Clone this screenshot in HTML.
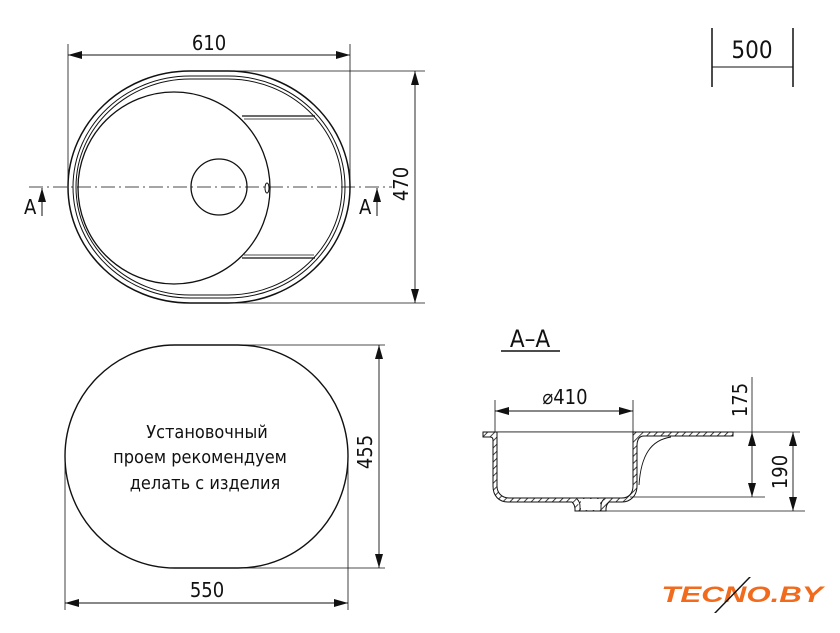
<!DOCTYPE html>
<html><head><meta charset="utf-8"><style>
html,body{margin:0;padding:0;background:#fff;width:840px;height:633px;overflow:hidden}
text{font-family:"DejaVu Sans Condensed","Liberation Sans",sans-serif;fill:#111}
</style></head><body>
<svg width="840" height="633" viewBox="0 0 840 633" xmlns="http://www.w3.org/2000/svg">
<defs>
<marker id="a" viewBox="0 0 14 8" refX="14" refY="4" markerWidth="14" markerHeight="8" orient="auto-start-reverse" markerUnits="userSpaceOnUse"><path d="M0,0L14,4L0,8z" fill="#111"/></marker>
<pattern id="h" width="5" height="5" patternUnits="userSpaceOnUse" patternTransform="rotate(45)"><rect width="5" height="5" fill="#fff"/><line x1="0" y1="0" x2="0" y2="5" stroke="#111" stroke-width="1.6"/></pattern>
</defs>
<g fill="none" stroke="#111" stroke-width="1.3">
<line x1="68" y1="44" x2="68" y2="185" stroke-width="0.8"/>
<line x1="350" y1="44" x2="350" y2="185" stroke-width="0.8"/>
<line x1="68" y1="55" x2="350" y2="55" stroke-width="0.9" marker-start="url(#a)" marker-end="url(#a)"/>
<line x1="210" y1="71" x2="425" y2="71" stroke-width="0.8"/>
<line x1="210" y1="303" x2="425" y2="303" stroke-width="0.8"/>
<line x1="415" y1="71" x2="415" y2="303" stroke-width="0.9" marker-start="url(#a)" marker-end="url(#a)"/>
<path d="M190,71 L228,71 C295,71 350,123 350,187 C350,251 295,303 228,303 L190,303 C123,303 68,251 68,187 C68,123 123,71 190,71Z" stroke-width="1.5"/>
<path d="M190,76 L228,76 C292,76 345,125 345,187 C345,249 292,298 228,298 L190,298 C126,298 73,249 73,187 C73,125 126,76 190,76Z" stroke-width="1"/>
<path d="M190,79 L228,79 C290,79 342,127 342,187 C342,247 290,295 228,295 L190,295 C128,295 76,247 76,187 C76,127 128,79 190,79Z" stroke-width="1"/>
<ellipse cx="174" cy="188" rx="96" ry="96"/>
<line x1="242" y1="116" x2="315" y2="116"/><line x1="244" y1="119" x2="314" y2="119" stroke-width="0.7"/>
<line x1="242" y1="258" x2="315" y2="258"/><line x1="244" y1="255" x2="314" y2="255" stroke-width="0.7"/>
<circle cx="219" cy="187" r="28"/>
<ellipse cx="267" cy="188" rx="2" ry="5" stroke-width="1"/>
<line x1="29" y1="187" x2="392" y2="187" stroke-width="0.8" stroke-dasharray="14,4,2,4"/>
<line x1="42" y1="188" x2="42" y2="216" stroke-width="1" marker-start="url(#a)"/>
<line x1="377" y1="188" x2="377" y2="216" stroke-width="1" marker-start="url(#a)"/>
<path d="M175,345 L238,345 C299,345 348,395 348,456 C348,518 299,568 238,568 L175,568 C114,568 65,518 65,456 C65,395 114,345 175,345Z" stroke-width="1.4"/>
<line x1="65" y1="456" x2="65" y2="610" stroke-width="0.8"/>
<line x1="348" y1="456" x2="348" y2="610" stroke-width="0.8"/>
<line x1="65" y1="603" x2="348" y2="603" stroke-width="0.9" marker-start="url(#a)" marker-end="url(#a)"/>
<line x1="200" y1="345" x2="385" y2="345" stroke-width="0.8"/>
<line x1="200" y1="568" x2="385" y2="568" stroke-width="0.8"/>
<line x1="379" y1="345" x2="379" y2="568" stroke-width="0.9" marker-start="url(#a)" marker-end="url(#a)"/>
<line x1="712" y1="28" x2="712" y2="87" stroke-width="1.5"/>
<line x1="793" y1="28" x2="793" y2="87" stroke-width="1.5"/>
<line x1="712" y1="67" x2="793" y2="67" stroke-width="1"/>
<line x1="501" y1="351" x2="560" y2="351" stroke-width="1.5"/>
<line x1="495" y1="400" x2="495" y2="432" stroke-width="0.8"/>
<line x1="633" y1="400" x2="633" y2="432" stroke-width="0.8"/>
<line x1="495" y1="411" x2="633" y2="411" stroke-width="0.9" marker-start="url(#a)" marker-end="url(#a)"/>
<path d="M483,432 L733,432 L733,436 L644,436 C639,436 637,440 637,446 L637,486 C637,496 630,502 622,502 L609,502 C607,504 606,506 606,509 L606,511 L575,511 L575,509 C575,506 574,504 572,502 L508,502 C499,502 493,496 493,486 L493,440 C493,438 492,437 490,437 L483,437 Z" fill="url(#h)" stroke-width="1"/>
<path d="M497,432 L497,486 C497,493 502,498 509,498 L622,498 C629,498 633,493 633,486 L633,432" stroke-width="1" fill="#fff"/>
<path d="M580,511 L580,506 C580,503 579,501 577,499 M601,511 L601,506 C601,503 602,501 604,499" stroke-width="0.9" fill="#fff"/>
<rect x="581" y="499" width="19" height="11" fill="#fff" stroke="none"/>
<line x1="495" y1="432" x2="800" y2="432" stroke-width="0.8"/>
<path d="M639,485 C641,455 651,440 671,437" stroke-width="0.9"/>
<line x1="630" y1="497" x2="765" y2="497" stroke-width="0.8"/>
<line x1="575" y1="511" x2="805" y2="511" stroke-width="0.8"/>
<line x1="752" y1="377" x2="752" y2="432" stroke-width="0.8"/>
<line x1="752" y1="432" x2="752" y2="497" stroke-width="0.9" marker-start="url(#a)" marker-end="url(#a)"/>
<line x1="793" y1="432" x2="793" y2="511" stroke-width="0.9" marker-start="url(#a)" marker-end="url(#a)"/>
</g>
<g font-size="20">
<text x="209" y="50" text-anchor="middle">610</text>
<text x="0" y="0" text-anchor="middle" transform="translate(408,184) rotate(-90)">470</text>
<text x="24" y="214">A</text>
<text x="359" y="214">A</text>
<text x="207" y="597" text-anchor="middle">550</text>
<text x="0" y="0" text-anchor="middle" transform="translate(372,452) rotate(-90)">455</text>
<text x="752" y="58" text-anchor="middle" font-size="24">500</text>
<text x="530" y="347" text-anchor="middle" font-size="24">A–A</text>
<text x="565" y="404" text-anchor="middle">⌀410</text>
<text x="0" y="0" text-anchor="middle" transform="translate(747,400) rotate(-90)">175</text>
<text x="0" y="0" text-anchor="middle" transform="translate(787,472) rotate(-90)">190</text>
</g>
<g font-size="18" text-anchor="middle">
<text x="207" y="438">Установочный</text>
<text x="200" y="463">проем рекомендуем</text>
<text x="205" y="489">делать с изделия</text>
</g>
<text x="0" y="0" text-anchor="middle" font-size="22" font-weight="bold" font-style="italic" transform="translate(742,602) scale(1.42,1)" style="fill:#f26a1b;font-family:'Liberation Sans',sans-serif">TECNO.BY</text>
<path d="M749,577 L751,577 L716,613 L714,613Z" fill="#111"/>
</svg>
</body></html>
